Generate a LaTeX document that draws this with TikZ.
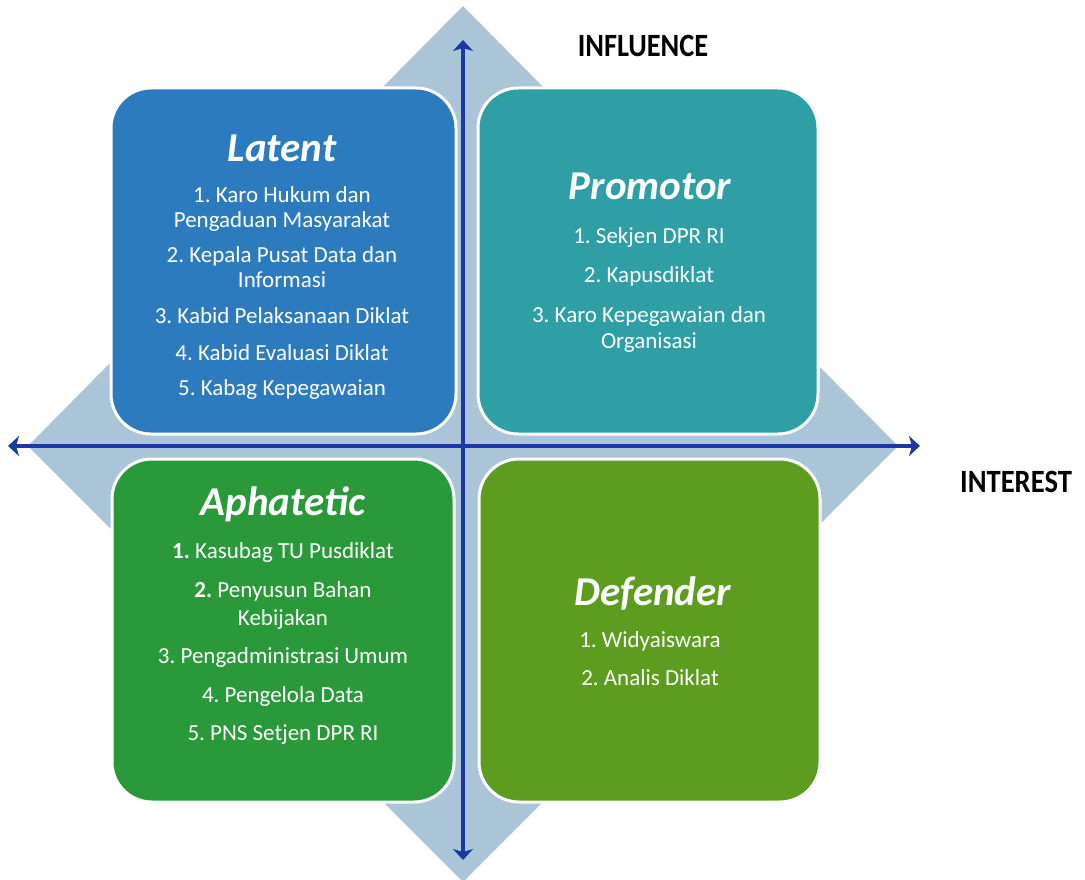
\documentclass[tikz,border=0pt]{standalone}
\usepackage{fontspec}
\setmainfont{Carlito}
\usetikzlibrary{arrows.meta}
\definecolor{diam}{RGB}{170,196,216}
\definecolor{axisblue}{RGB}{28,56,165}
\definecolor{clatent}{RGB}{44,123,190}
\definecolor{cpromo}{RGB}{46,160,165}
\definecolor{caphat}{RGB}{42,153,58}
\definecolor{cdefend}{RGB}{92,157,31}
\tikzset{
  quad/.style={draw=white, line width=3pt, rounded corners=40pt},
  ttl/.style={text=white, inner sep=0pt, anchor=base, font=\fontsize{41}{44}\selectfont\bfseries\itshape},
  itm/.style={text=white, inner sep=0pt, anchor=base, font=\fontsize{23}{26}\selectfont},
  axlab/.style={inner sep=0pt, anchor=base, font=\fontsize{26}{28}\selectfont\bfseries},
  axis/.style={draw=axisblue, line width=3.5pt, {Stealth[length=11pt,width=20pt,inset=3pt]}-{Stealth[length=11pt,width=20pt,inset=3pt]}}
}
\begin{document}
\frenchspacing
\begin{tikzpicture}[x=1pt,y=-1pt]
\useasboundingbox (0,0) rectangle (1085,880);
% diamond background
\fill[diam] (463,6) -- (898,446) -- (463,882) -- (28,446) -- cycle;
% quadrants
\path[quad, fill=clatent] (111,88) rectangle (456,434);
\path[quad, fill=cpromo] (478,88) rectangle (818,434);
\path[quad, fill=caphat] (112,459) rectangle (454,802);
\path[quad, fill=cdefend] (479,459) rectangle (820,802);
% axes
\coordinate (vt) at (463,40);
\coordinate (vb) at (463,860);
\coordinate (hl) at (8,446);
\coordinate (hr) at (920,446);
\draw[axis] (vb) -- (vt);
\draw[axis] (hl) -- (hr);
\node[axlab] (infl) at (643,57) {\scalebox{1.09}[1.25]{INFLUENCE}};
\node[axlab] (intr) at (1016,492) {\scalebox{1.1}[1.25]{INTEREST}};
% Latent
\node[ttl] (tlat) at (282,162) {Latent};
\node[itm] (l1a) at (282,202) {1. Karo Hukum dan};
\node[itm] (l1b) at (282,227) {Pengaduan Masyarakat};
\node[itm] (l2a) at (282,262) {2. Kepala Pusat Data dan};
\node[itm] (l2b) at (282,287) {Informasi};
\node[itm] (l3) at (282,323) {3. Kabid Pelaksanaan Diklat};
\node[itm] (l4) at (282,360) {4. Kabid Evaluasi Diklat};
\node[itm] (l5) at (282,395) {5. Kabag Kepegawaian};
% Promotor
\node[ttl] (tpro) at (650,200) {Promotor};
\node[itm] (p1) at (649,243) {1. Sekjen DPR RI};
\node[itm] (p2) at (649,282) {2. Kapusdiklat};
\node[itm] (p3a) at (649,322) {3. Karo Kepegawaian dan};
\node[itm] (p3b) at (649,348) {Organisasi};
% Aphatetic
\node[ttl] (taph) at (283,515) {Aphatetic};
\node[itm] (a1) at (283,558) {\textbf{1.} Kasubag TU Pusdiklat};
\node[itm] (a2a) at (283,597) {\textbf{2.} Penyusun Bahan};
\node[itm] (a2b) at (283,625) {Kebijakan};
\node[itm] (a3) at (283,663) {3. Pengadministrasi Umum};
\node[itm] (a4) at (283,702) {4. Pengelola Data};
\node[itm] (a5) at (283,740) {5. PNS Setjen DPR RI};
% Defender
\node[ttl] (tdef) at (653,605) {Defender};
\node[itm] (d1) at (650,647) {1. Widyaiswara};
\node[itm] (d2) at (650,685) {2. Analis Diklat};
\end{tikzpicture}
\end{document}
